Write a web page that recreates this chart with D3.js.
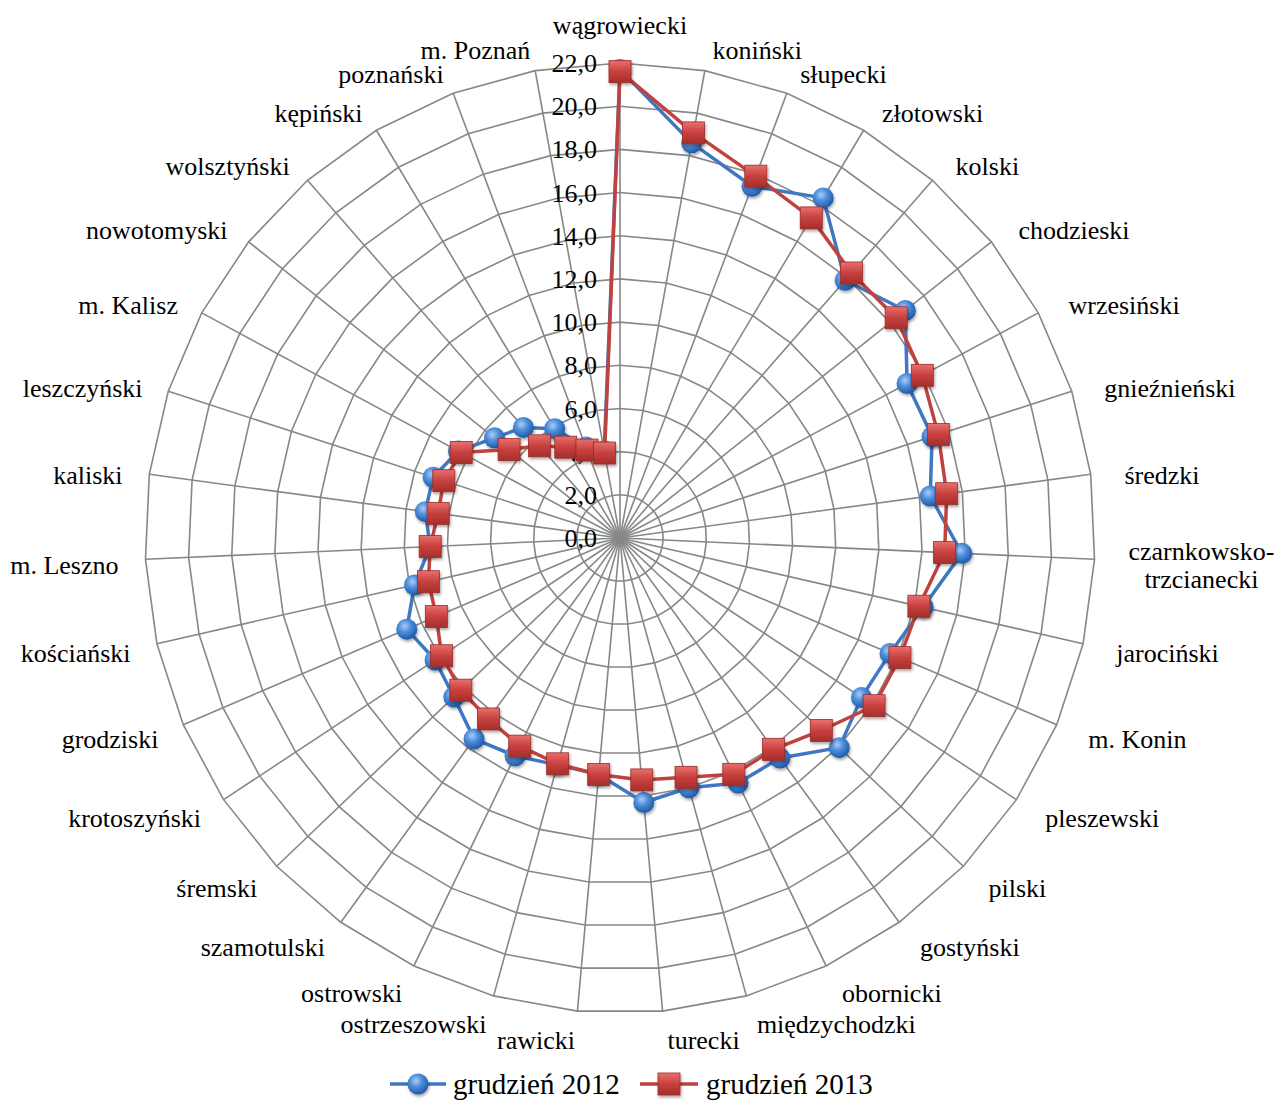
<!DOCTYPE html>
<html>
<head>
<meta charset="utf-8">
<title>Radar chart</title>
<script src="https://d3js.org/d3.v7.min.js"></script>
<style>
  body { margin: 0; background: #fff; }
  text { font-family: "Liberation Serif", "Times New Roman", serif; fill: #000; }
</style>
</head>
<body>
<div id="chart"></div>
<script>
// categories, clockwise from the top
var categories = ["wągrowiecki", "koniński", "słupecki", "złotowski", "kolski", "chodzieski",
  "wrzesiński", "gnieźnieński", "średzki", "czarnkowsko-trzcianecki", "jarociński", "m. Konin",
  "pleszewski", "pilski", "gostyński", "obornicki", "międzychodzki", "turecki", "rawicki",
  "ostrzeszowski", "ostrowski", "szamotulski", "śremski", "krotoszyński", "grodziski",
  "kościański", "m. Leszno", "kaliski", "leszczyński", "m. Kalisz", "nowotomyski",
  "wolsztyński", "kępiński", "poznański", "m. Poznań"];

var values2012 = [21.7, 18.6, 17.4, 18.35, 15.85, 16.9, 15.1, 15.2, 14.5, 15.85, 14.4, 13.6,
  13.4, 14.05, 12.6, 12.6, 12.0, 12.3, 11.0, 10.9, 11.2, 11.5, 10.65, 10.26, 10.74, 9.76,
  8.8, 9.1, 9.1, 8.5, 7.44, 6.8, 5.9, 4.5, 4.1];

var values2013 = [21.6, 19.07, 17.9, 17.27, 16.3, 16.36, 15.9, 15.5, 15.27, 15.05, 14.2, 14.1,
  14.1, 12.9, 12.1, 12.15, 11.5, 11.25, 11.0, 10.85, 10.7, 10.36, 10.2, 9.9, 9.25, 9.1,
  8.8, 8.5, 8.58, 8.35, 6.57, 5.67, 4.9, 4.35, 4.0];

var tickValues = [0, 2, 4, 6, 8, 10, 12, 14, 16, 18, 20, 22];
var seriesNames = ["grudzień 2012", "grudzień 2013"];

var width = 1275, height = 1102;
var cx = 620, cy = 538, R = 475;
var n = categories.length;

var r = d3.scaleLinear().domain([0, 22]).range([0, R]);
var angle = d3.scaleLinear().domain([0, n]).range([0, 2 * Math.PI]);
var fmt = function (v) { return d3.format(".1f")(v).replace(".", ","); };

function pt(i, v) {
  var a = angle(i);
  return [cx + r(v) * Math.sin(a), cy - r(v) * Math.cos(a)];
}

var svg = d3.select("#chart").append("svg")
  .attr("width", width)
  .attr("height", height);

var defs = svg.append("defs");
var bg = defs.append("radialGradient").attr("id", "blueBall")
  .attr("cx", "40%").attr("cy", "35%").attr("r", "65%");
bg.append("stop").attr("offset", "0%").attr("stop-color", "#a9cdf7");
bg.append("stop").attr("offset", "45%").attr("stop-color", "#4d8fdc");
bg.append("stop").attr("offset", "100%").attr("stop-color", "#1f5aa6");

var rg = defs.append("linearGradient").attr("id", "redBox")
  .attr("x1", "0").attr("y1", "0").attr("x2", "0").attr("y2", "1");
rg.append("stop").attr("offset", "0%").attr("stop-color", "#e8706d");
rg.append("stop").attr("offset", "50%").attr("stop-color", "#c8403d");
rg.append("stop").attr("offset", "100%").attr("stop-color", "#a42f2c");

var sh = defs.append("filter").attr("id", "shadow")
  .attr("x", "-50%").attr("y", "-50%").attr("width", "200%").attr("height", "200%");
sh.append("feDropShadow").attr("dx", 1).attr("dy", 2).attr("stdDeviation", 1.5)
  .attr("flood-color", "#000").attr("flood-opacity", 0.35);

// grid rings
var grid = svg.append("g");
tickValues.slice(1).forEach(function (t) {
  var ring = d3.range(n).map(function (i) { return pt(i, t); });
  grid.append("polygon")
    .attr("points", ring.map(function (p) { return p.join(","); }).join(" "))
    .attr("fill", "none")
    .attr("stroke", "#878787")
    .attr("stroke-width", 1.6);
});

// spokes
grid.selectAll("line.spoke")
  .data(d3.range(n))
  .enter().append("line")
  .attr("x1", cx).attr("y1", cy)
  .attr("x2", function (i) { return pt(i, 22)[0]; })
  .attr("y2", function (i) { return pt(i, 22)[1]; })
  .attr("stroke", "#878787")
  .attr("stroke-width", 1.6);

// value labels along the vertical axis
svg.append("g").selectAll("text")
  .data(tickValues)
  .enter().append("text")
  .attr("x", cx - 23)
  .attr("y", function (t) { return cy - r(t); })
  .attr("dy", "0.35em")
  .attr("text-anchor", "end")
  .style("font-size", "26px")
  .text(fmt);

// category labels
var lab = svg.append("g").style("font-size", "26px");
categories.forEach(function (name, i) {
  var a = angle(i), s = Math.sin(a), c = Math.cos(a);
  var g = pt(i, 22);
  var x, anchor;
  if (s > 0.05) { x = g[0] + 32 * s + 2; anchor = "start"; }
  else if (s < -0.05) { x = g[0] + 27 * s; anchor = "end"; }
  else { x = g[0]; anchor = "middle"; }
  var y = g[1] - 25 * c + 4;
  if (i === 0) y = g[1] - 38;

  var lines = name.length > 15 ? [name.slice(0, name.indexOf("-") + 1), name.slice(name.indexOf("-") + 1)] : [name];
  if (lines.length === 1) {
    lab.append("text").attr("x", x).attr("y", y).attr("dy", "0.35em")
      .attr("text-anchor", anchor).text(name);
  } else {
    var t = lab.append("text").attr("text-anchor", "middle");
    var spans = lines.map(function (l, k) {
      return t.append("tspan").attr("y", y + (k - (lines.length - 1) / 2) * 28)
        .attr("dy", "0.35em").text(l);
    });
    var w = d3.max(spans, function (sp) { return sp.node().getComputedTextLength(); });
    spans.forEach(function (sp) { sp.attr("x", x + w / 2); });
  }
});

var line = d3.line().curve(d3.curveLinearClosed)
  .x(function (d, i) { return pt(i, d)[0]; })
  .y(function (d, i) { return pt(i, d)[1]; });

// series 2012
svg.append("path").datum(values2012)
  .attr("d", line).attr("fill", "none")
  .attr("stroke", "#3f78c0").attr("stroke-width", 3.5)
  .attr("stroke-linejoin", "round");
svg.append("g").selectAll("circle")
  .data(values2012).enter().append("circle")
  .attr("cx", function (d, i) { return pt(i, d)[0]; })
  .attr("cy", function (d, i) { return pt(i, d)[1]; })
  .attr("r", 10.5)
  .attr("fill", "url(#blueBall)")
  .attr("filter", "url(#shadow)");

// series 2013
svg.append("path").datum(values2013)
  .attr("d", line).attr("fill", "none")
  .attr("stroke", "#c0423f").attr("stroke-width", 3.5)
  .attr("stroke-linejoin", "round");
svg.append("g").selectAll("rect")
  .data(values2013).enter().append("rect")
  .attr("x", function (d, i) { return pt(i, d)[0] - 11; })
  .attr("y", function (d, i) { return pt(i, d)[1] - 11; })
  .attr("width", 22).attr("height", 22)
  .attr("fill", "url(#redBox)")
  .attr("stroke", "#9c2c2a").attr("stroke-width", 0.8)
  .attr("filter", "url(#shadow)");

// legend
var leg = svg.append("g").style("font-size", "29px");
var ly = 1084;
leg.append("line").attr("x1", 390).attr("x2", 446).attr("y1", ly).attr("y2", ly)
  .attr("stroke", "#3f78c0").attr("stroke-width", 3.5);
leg.append("circle").attr("cx", 418).attr("cy", ly).attr("r", 10.5)
  .attr("fill", "url(#blueBall)").attr("filter", "url(#shadow)");
leg.append("text").attr("x", 453).attr("y", ly).attr("dy", "0.35em").text(seriesNames[0]);

leg.append("line").attr("x1", 640).attr("x2", 698).attr("y1", ly).attr("y2", ly)
  .attr("stroke", "#c0423f").attr("stroke-width", 3.5);
leg.append("rect").attr("x", 658).attr("y", ly - 11).attr("width", 22).attr("height", 22)
  .attr("fill", "url(#redBox)").attr("stroke", "#9c2c2a").attr("stroke-width", 0.8)
  .attr("filter", "url(#shadow)");
leg.append("text").attr("x", 706).attr("y", ly).attr("dy", "0.35em").text(seriesNames[1]);
</script>
</body>
</html>
